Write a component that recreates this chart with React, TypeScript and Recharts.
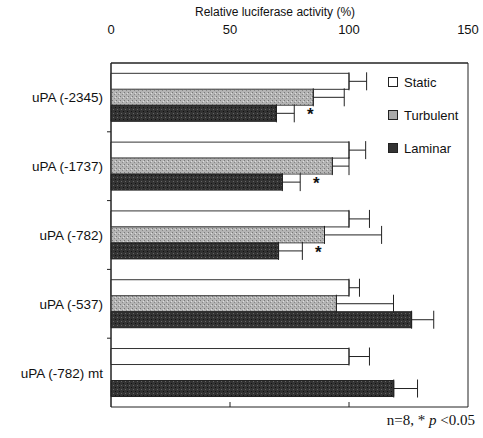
import React from 'react';
import { BarChart, Bar, XAxis, YAxis, ErrorBar, LabelList, ReferenceArea, ReferenceLine } from 'recharts';

const categories = ['uPA (-2345)', 'uPA (-1737)', 'uPA (-782)', 'uPA (-537)', 'uPA (-782) mt'];
const staticVals = [100, 100, 100, 100, 100];
const staticErr = [7.4, 7, 8.6, 4.4, 8.6];
const turbulentVals = [85, 93, 89.7, 94.7, null];
const turbulentErr = [13, 7, 24, 24, null];
const laminarVals = [69.5, 72, 70.4, 126.3, 118.8];
const laminarErr = [7.5, 7.5, 10, 9.3, 10];
const significant = ['*', '*', '*', '', ''];
const xTicks = [0, 50, 100, 150];
const bottomTicks = [50, 100];
const seriesNames = ['Static', 'Turbulent', 'Laminar'];
const seriesSwatch = ['#fff', '#aaa', '#333'];

const data = categories.map((name, i) => ({
  name,
  static: staticVals[i],
  staticErr: [0, staticErr[i]],
  turbulent: turbulentVals[i],
  turbulentErr: turbulentErr[i] == null ? null : [0, turbulentErr[i] as number],
  laminar: laminarVals[i],
  laminarErr: [0, laminarErr[i]],
  sig: significant[i],
}));

const font = 'Arial, "Liberation Sans", sans-serif';

const Star = (props: any) => {
  const { x, y, width, height, value, index } = props;
  if (!value) return null;
  const pxPerUnit = width / laminarVals[index];
  const cx = x + width + laminarErr[index] * pxPerUnit + 16;
  return (
    <text x={cx} y={y + height / 2 + 7} textAnchor="middle" fontSize={17} fontWeight="bold" fill="#111" fontFamily={font}>
      {value}
    </text>
  );
};

// short inward tick on the bottom edge of the box
const BottomTick = (props: any) => {
  const { x1, y1, y2 } = props;
  const yb = Math.max(y1, y2);
  return <line x1={x1} x2={x1} y1={yb - 5} y2={yb} stroke="#222" strokeWidth={1} />;
};

// category label plus a small mark at the band boundary below it
const CatTick = (props: any) => {
  const { x, y, payload, index } = props;
  const half = payload && payload.offset ? payload.offset : 34.4;
  const last = index === categories.length - 1;
  return (
    <g>
      <text x={x - 2} y={y} dy={5} textAnchor="end" fontSize={13.5} fontFamily={font} fill="#111">
        {payload.value}
      </text>
      {!last && <line x1={x + 2} x2={x + 6} y1={y + half} y2={y + half} stroke="#222" />}
    </g>
  );
};

export default function App() {
  return (
    <div style={{ position: 'absolute', left: 0, top: 0, width: 483, height: 438, background: '#fff' }}>
      <div style={{ position: 'absolute', left: 195, top: 5, fontFamily: font, fontSize: 12, color: '#111' }}>
        Relative luciferase activity (%)
      </div>
      <BarChart
        width={483}
        height={438}
        data={data}
        layout="vertical"
        margin={{ top: 33, right: 15, bottom: 31, left: 0 }}
        barCategoryGap="15%"
        barGap={0}
      >
        <defs>
          <pattern id="turb" width="4" height="4" patternUnits="userSpaceOnUse">
            <rect width="4" height="4" fill="#b4b4b4" />
            <rect x="0" y="0" width="1" height="1" fill="#777" />
            <rect x="2" y="2" width="1" height="1" fill="#888" />
            <rect x="3" y="1" width="1" height="1" fill="#ddd" />
          </pattern>
          <pattern id="lam" width="4" height="4" patternUnits="userSpaceOnUse">
            <rect width="4" height="4" fill="#333" />
            <rect x="1" y="1" width="1" height="1" fill="#666" />
            <rect x="3" y="3" width="1" height="1" fill="#111" />
          </pattern>
        </defs>
        <XAxis
          type="number"
          orientation="top"
          domain={[0, 150]}
          ticks={xTicks}
          height={30}
          tickLine={false}
          tickMargin={23}
          axisLine={{ stroke: '#222' }}
          tick={{ fill: '#111', fontSize: 13, fontFamily: font }}
        />
        <YAxis
          type="category"
          dataKey="name"
          width={111}
          tickLine={false}
          tickMargin={0}
          axisLine={{ stroke: '#222' }}
          tick={<CatTick />}
        />
        <ReferenceArea x1={0} x2={150} fill="none" stroke="#222" strokeWidth={1} />
        {bottomTicks.map((t) => (
          <ReferenceLine key={t} x={t} shape={<BottomTick />} />
        ))}
        <Bar dataKey="static" name="Static" fill="#fff" stroke="#333" strokeWidth={1} isAnimationActive={false}>
          <ErrorBar dataKey="staticErr" direction="x" width={9} stroke="#222" strokeWidth={1} />
        </Bar>
        <Bar dataKey="turbulent" name="Turbulent" fill="url(#turb)" stroke="#555" strokeWidth={1} isAnimationActive={false}>
          <ErrorBar dataKey="turbulentErr" direction="x" width={9} stroke="#222" strokeWidth={1} />
        </Bar>
        <Bar dataKey="laminar" name="Laminar" fill="url(#lam)" stroke="#222" strokeWidth={1} isAnimationActive={false}>
          <ErrorBar dataKey="laminarErr" direction="x" width={9} stroke="#222" strokeWidth={1} />
          <LabelList dataKey="sig" content={<Star />} />
        </Bar>
      </BarChart>
      <div style={{ position: 'absolute', left: 388, top: 66, fontFamily: font, fontSize: 13, color: '#111' }}>
        {seriesNames.map((label, i) => (
          <div key={label} style={{ display: 'flex', alignItems: 'center', height: 33 }}>
            <svg width={11} height={11} style={{ marginRight: 5 }}>
              <rect x={0.5} y={0.5} width={9} height={9} fill={seriesSwatch[i]} stroke="#222" />
            </svg>
            {label}
          </div>
        ))}
      </div>
      <div style={{ position: 'absolute', right: 8, top: 412, fontFamily: '"Liberation Serif", "DejaVu Serif", serif', fontSize: 15, color: '#111' }}>
        n=8, * <i>p</i> &lt;0.05
      </div>
    </div>
  );
}
